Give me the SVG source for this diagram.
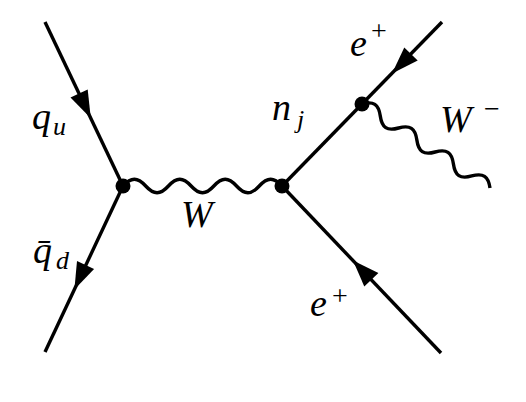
<svg xmlns="http://www.w3.org/2000/svg" width="526" height="402" viewBox="0 0 526 402">
<style>
.ln{stroke:#000;stroke-width:3.4;fill:none}
.wv{stroke:#000;stroke-width:3.4;fill:none}
.ah{fill:#000;stroke:none}
.dot{fill:#000}
.lb{font-family:'Liberation Serif','DejaVu Serif',serif;font-style:italic;font-size:38px;fill:#000}
.sb{font-family:'Liberation Serif','DejaVu Serif',serif;font-style:italic;font-size:26px;fill:#000}
.sp{font-family:'Liberation Serif','DejaVu Serif',serif;font-size:28px;fill:#000}
</style>
<rect width="526" height="402" fill="#fff"/>
<g id="connectors">
  <g id="qu-line">
    <line class="ln" x1="45" y1="22" x2="123" y2="186"/>
    <polygon class="ah" points="90.8,118.2 87.7,89.4 70.5,97.6"/>
  </g>
  <g id="qd-line">
    <line class="ln" x1="123" y1="186" x2="45" y2="352"/>
    <polygon class="ah" points="74.4,289.5 94.1,269.1 77.0,261.1"/>
  </g>
  <g id="W-line">
    <path class="wv" d="M123,186 c8.18,-9 14.54,-9 22.71,0 c8.18,9 14.54,9 22.71,0 c8.18,-9 14.54,-9 22.71,0 c8.18,9 14.54,9 22.71,0 c8.18,-9 14.54,-9 22.71,0 c8.18,9 14.54,9 22.71,0 c8.18,-9 14.54,-9 22.71,0"/>
  </g>
  <g id="nj-line">
    <line class="ln" x1="282" y1="186" x2="362" y2="104"/>
  </g>
  <g id="e-top-line">
    <line class="ln" x1="362" y1="104" x2="442" y2="22"/>
    <polygon class="ah" points="392,73.5 417.7,60.5 404.3,47.4"/>
  </g>
  <g id="e-bottom-line">
    <line class="ln" x1="282" y1="186" x2="441" y2="353"/>
    <polygon class="ah" points="353,260.6 378.4,273.1 364.3,286.6"/>
  </g>
  <g id="Wminus-line" transform="translate(362,104) rotate(33.27)">
    <path class="wv" d="M0,0 c7.87,-9 14,-9 21.87,0 c7.87,9 14,9 21.87,0 c7.87,-9 14,-9 21.87,0 c7.87,9 14,9 21.87,0 c7.87,-9 14,-9 21.87,0 c7.87,9 14,9 21.87,0 c7.87,-9 14,-9 21.87,0"/>
  </g>
</g>
<g id="v1"><circle class="dot" cx="123" cy="186" r="7.5"/></g>
<g id="v2"><circle class="dot" cx="282" cy="186" r="7.5"/></g>
<g id="v3"><circle class="dot" cx="362" cy="104" r="7.5"/></g>
<g id="label-qu"><text class="lb" x="32" y="129">q</text><text class="sb" x="53" y="135">u</text></g>
<g id="label-qd"><text class="lb" x="33" y="263">q̄</text><text class="sb" x="56" y="269">d</text></g>
<g id="label-W"><text class="lb" x="181" y="227">W</text></g>
<g id="label-nj"><text class="lb" x="272" y="120">n</text><text class="sb" x="297" y="128">j</text></g>
<g id="label-e-top"><text class="lb" x="350" y="56">e</text><text class="sp" x="371" y="40">+</text></g>
<g id="label-Wminus"><text class="lb" x="440" y="132">W</text><text class="sp" x="484" y="118">−</text></g>
<g id="label-e-bottom"><text class="lb" x="310" y="316">e</text><text class="sp" x="332" y="305">+</text></g>
</svg>
